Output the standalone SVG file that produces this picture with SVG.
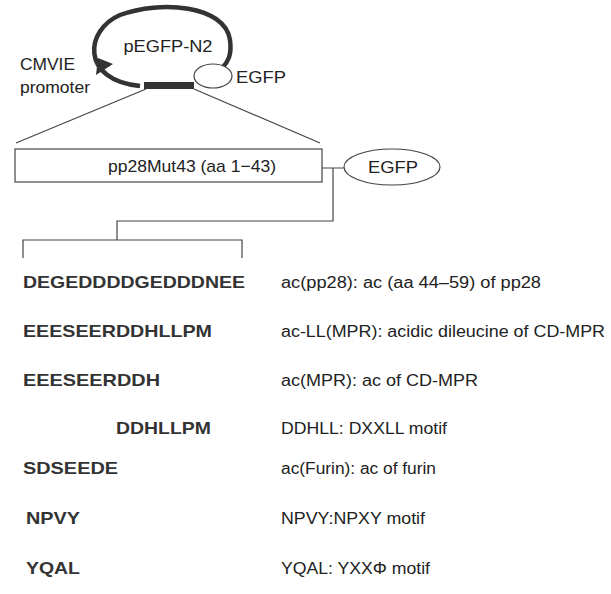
<svg xmlns="http://www.w3.org/2000/svg" width="611" height="594" viewBox="0 0 611 594">
<style>
text{font-family:"Liberation Sans",Arial,sans-serif;fill:#222}
.s{font-size:17px;font-weight:bold;fill:#333}
.l{font-size:16px}
.ln{stroke:#444;stroke-width:1.2;fill:none}
</style>
<g id="plasmid">
<path d="M140,86 C80,80 85,30 120,15 C160,0 225,5 230,40 C232,55 228,62 222,68" stroke="#333" stroke-width="4.5" fill="none"/>
<path d="M98,58 L113,64 L96,75 Z" fill="#333"/>
<rect x="144" y="82" width="50" height="7" fill="#333"/>
<text x="168" y="52" text-anchor="middle" style="font-size:17px" textLength="89" lengthAdjust="spacingAndGlyphs">pEGFP-N2</text>
</g>
<g id="egfp_small"><ellipse cx="213" cy="76" rx="19" ry="12" fill="#fff" stroke="#444" stroke-width="1.2"/>
<text x="236" y="83" style="font-size:17px" textLength="50" lengthAdjust="spacingAndGlyphs">EGFP</text></g>
<g id="cmvie"><text x="20" y="70" style="font-size:17px" textLength="55" lengthAdjust="spacingAndGlyphs">CMVIE</text><text x="20" y="93" style="font-size:17px" textLength="70" lengthAdjust="spacingAndGlyphs">promoter</text></g>
<g id="box"><rect x="15" y="149" width="307" height="33" fill="#fff" stroke="#444" stroke-width="1.2"/>
<text x="108" y="172" style="font-size:17px" textLength="168" lengthAdjust="spacingAndGlyphs">pp28Mut43 (aa 1−43)</text></g>
<g id="egfp"><ellipse cx="392" cy="167" rx="48" ry="18" fill="#fff" stroke="#444" stroke-width="1.2"/>
<text x="368" y="173" style="font-size:17px" textLength="50" lengthAdjust="spacingAndGlyphs">EGFP</text></g>
<g id="connectors">
<path class="ln" d="M146,89 L16,143 M194,89 L320,143"/>
<path class="ln" d="M322,168 L344,168 M333,168 L333,221 L117,221 L117,240 M23,258 L23,240 L242,240 L242,258"/>
</g>
<g id="rows">
<text class="s" x="23" y="288" textLength="222" lengthAdjust="spacingAndGlyphs">DEGEDDDDGEDDDNEE</text><text class="l" x="281" y="288" textLength="260" lengthAdjust="spacingAndGlyphs">ac(pp28): ac (aa 44–59) of pp28</text>
<text class="s" x="23" y="337" textLength="189" lengthAdjust="spacingAndGlyphs">EEESEERDDHLLPM</text><text class="l" x="281" y="337" textLength="324" lengthAdjust="spacingAndGlyphs">ac-LL(MPR): acidic dileucine of CD-MPR</text>
<text class="s" x="23" y="386" textLength="137" lengthAdjust="spacingAndGlyphs">EEESEERDDH</text><text class="l" x="281" y="386" textLength="197" lengthAdjust="spacingAndGlyphs">ac(MPR): ac of CD-MPR</text>
<text class="s" x="116" y="434" textLength="95" lengthAdjust="spacingAndGlyphs">DDHLLPM</text><text class="l" x="281" y="434" textLength="166" lengthAdjust="spacingAndGlyphs">DDHLL: DXXLL motif</text>
<text class="s" x="23" y="474" textLength="95" lengthAdjust="spacingAndGlyphs">SDSEEDE</text><text class="l" x="281" y="474" textLength="155" lengthAdjust="spacingAndGlyphs">ac(Furin): ac of furin</text>
<text class="s" x="26" y="524" textLength="54" lengthAdjust="spacingAndGlyphs">NPVY</text><text class="l" x="281" y="524" textLength="144" lengthAdjust="spacingAndGlyphs">NPVY:NPXY motif</text>
<text class="s" x="26" y="574" textLength="54" lengthAdjust="spacingAndGlyphs">YQAL</text><text class="l" x="281" y="574" textLength="149" lengthAdjust="spacingAndGlyphs">YQAL: YXXΦ motif</text>
</g>
</svg>
